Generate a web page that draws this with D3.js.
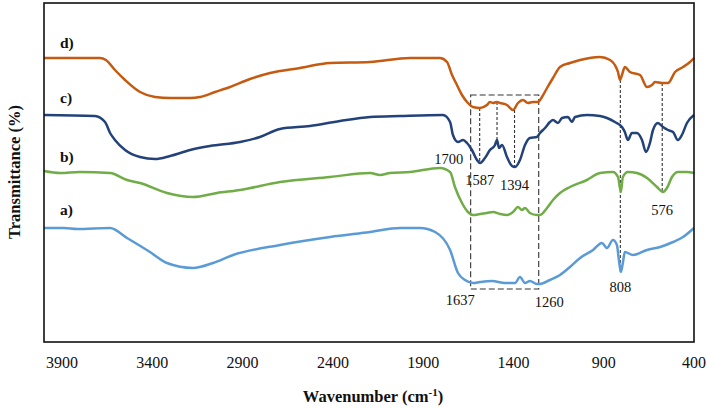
<!DOCTYPE html>
<html>
<head>
<meta charset="utf-8">
<script src="https://cdn.jsdelivr.net/npm/d3@7"></script>
<style>
body { margin: 0; background: #fff; }
text { font-family: "Liberation Serif", "Times New Roman", serif; fill: #111; }
.tick-label { font-size: 16px; }
.peak-label { font-size: 14.5px; }
.curve-label { font-size: 15.5px; font-weight: bold; }
.axis-title { font-size: 16.5px; font-weight: bold; }
.spectrum { fill: none; stroke-width: 2.5; stroke-linejoin: round; }
</style>
</head>
<body>
<svg width="708" height="408"></svg>
<script>
// wavenumber ticks (cm-1)
var xTicks = [3900, 3400, 2900, 2400, 1900, 1400, 900, 400];

// spectra: [wavenumber, transmittance (a.u., offset)]
var specA = [[4000,57],[3889,57],[3817,56.5],[3634,57],[3540,52],[3413,45],[3319,39.5],[3175,37],[3064,39.5],
	[2953,43.5],[2693,48.5],[2416,52.5],[2194,55],[2028,57],[1918,57],[1834,55],[1751,46],[1707,34.5],[1668,31],
	[1624,29.5],[1585,30],[1519,30.5],[1447,29.5],[1391,29.5],[1364,32.5],[1336,29.5],[1309,30.5],[1270,29],
	[1253,29],[1198,31],[1142,33.5],[1087,37.5],[1031,42],[959,46],[910,49.5],[882,47],[849,51],[827,48.5],
	[816,41],[805,35],[794,39.5],[783,45],[738,43.5],[660,46],[588,47.5],[516,50],[461,52.5],[400,57]];

var specB = [[4000,85.5],[3911,84.5],[3801,85],[3634,84.5],[3540,81],[3468,79.5],[3319,74.5],[3175,72.5],
	[3042,74.5],[2914,76],[2693,80],[2416,82.5],[2194,84.5],[2139,83.5],[2084,84.5],[1973,85],[1807,87],
	[1751,85],[1724,77.5],[1685,69.5],[1652,65],[1624,63.5],[1585,64],[1547,64.5],[1513,65],[1474,64],
	[1436,63.5],[1402,65],[1375,67.5],[1353,66],[1336,67],[1309,64.5],[1270,63.5],[1253,63.5],[1214,67],
	[1181,71],[1142,74.5],[1087,77.5],[993,81],[921,84.5],[849,85],[821,82.5],[805,75],[794,82.5],[766,85],
	[716,84.5],[660,82],[605,77.5],[572,75],[550,77],[522,82.5],[489,85],[439,85],[400,84.5]];

var specC = [[4000,113.5],[3718,113],[3662,110],[3634,104.5],[3607,101],[3551,96],[3468,92.5],[3385,91.5],
	[3302,93],[3191,96],[3081,98],[2914,100],[2804,102.5],[2693,106.5],[2527,108],[2361,110.5],[2194,112.5],
	[2028,113],[1790,113.5],[1751,110],[1735,103.5],[1707,100],[1679,101],[1657,99.5],[1630,96],[1602,91],
	[1585,89.5],[1558,92],[1530,96],[1502,98.5],[1491,101],[1480,97],[1463,98.5],[1436,92.5],[1408,88],
	[1391,87.5],[1364,91],[1336,98.5],[1309,102],[1270,102.5],[1253,104.5],[1225,107],[1198,110],[1181,111],
	[1153,109.5],[1131,112],[1098,112.5],[1076,110],[1059,112.5],[993,113.5],[921,113],[882,112],[838,110],
	[799,107.5],[783,105],[766,101],[744,104.5],[716,104.5],[688,101],[666,95],[644,99.5],[627,106],[600,109.5],
	[572,107.5],[544,106],[516,105],[489,101],[467,103.5],[439,109.5],[400,113.5]];

var specD = [[4000,142],[3801,142],[3690,142],[3657,141],[3607,136],[3551,131],[3468,125],[3385,122.5],
	[3302,122],[3191,122],[3136,122.5],[3053,125],[2970,127.5],[2859,131.5],[2748,134.5],[2582,137],
	[2416,139.5],[2194,140],[1973,142],[1807,142],[1768,140],[1740,133.5],[1713,128.5],[1685,123.5],[1657,120],
	[1624,117.5],[1585,117],[1547,118.5],[1530,120],[1513,119.5],[1491,120],[1474,119.5],[1436,118.5],
	[1402,116],[1375,119.5],[1347,121],[1320,119.5],[1292,120],[1264,120],[1242,122.5],[1214,127],[1181,132],
	[1142,137.5],[1087,139.5],[1031,141],[921,142.5],[865,141],[838,138.5],[821,135],[810,131],[799,133.5],
	[783,137.5],[755,135],[699,133.5],[660,127.5],[633,128.5],[616,130],[577,129.5],[544,129.5],[505,135],
	[461,137.5],[422,140],[400,142]];

var seriesNames = ["a)", "b)", "c)", "d)"];
var seriesColors = ["#5b9bd5", "#70ad47", "#23427a", "#c55a11"];
var seriesData = [specA, specB, specC, specD];
var labelLevels = [63.5, 90, 119.5, 147];

// marked peaks: [wavenumber, label, label level, anchor]
var peakLabels = [[1700, "1700", 89, "end"], [1587, "1587", 78.5, "middle"], [1394, "1394", 76, "middle"],
	[1637, "1637", 18.5, "end"], [1260, "1260", 17.5, "start"], [808, "808", 25, "middle"], [576, "576", 63.5, "middle"]];

// dashed guide lines: [wavenumber, from, to]
var guides = [[1587, 117, 89.5], [1491, 120, 101], [1394, 116, 87.5], [808, 131, 35], [576, 129.5, 75]];
var boxRange = [1637, 1260, 26.5, 123.5];

var svg = d3.select("svg");
var margin = {left: 44, right: 14, top: 3, bottom: 66};
var width = 708, height = 408;

var x = d3.scaleLinear().domain([4000, 400]).range([margin.left, width - margin.right]);
var y = d3.scaleLinear().domain([0, 170]).range([height - margin.bottom, margin.top - 1]);

var line = d3.line()
	.x(function(d) { return x(d[0]); })
	.y(function(d) { return y(d[1]); })
	.curve(d3.curveMonotoneX);

// guides under the curves
var g = svg.append("g");
g.append("rect")
	.attr("x", x(boxRange[0]))
	.attr("y", y(boxRange[3]))
	.attr("width", x(boxRange[1]) - x(boxRange[0]))
	.attr("height", y(boxRange[2]) - y(boxRange[3]))
	.attr("fill", "none")
	.attr("stroke", "#333")
	.attr("stroke-width", 1.1)
	.attr("stroke-dasharray", "6,3");

g.selectAll("line.guide")
	.data(guides)
	.enter().append("line")
	.attr("class", "guide")
	.attr("x1", function(d) { return x(d[0]); })
	.attr("x2", function(d) { return x(d[0]); })
	.attr("y1", function(d) { return y(d[1]); })
	.attr("y2", function(d) { return y(d[2]); })
	.attr("stroke", "#333")
	.attr("stroke-width", 1.1)
	.attr("stroke-dasharray", "3,2");

svg.selectAll("path.spectrum")
	.data(seriesData)
	.enter().append("path")
	.attr("class", "spectrum")
	.attr("stroke", function(d, i) { return seriesColors[i]; })
	.attr("d", line);

// frame
svg.append("rect")
	.attr("x", margin.left)
	.attr("y", margin.top)
	.attr("width", width - margin.left - margin.right)
	.attr("height", height - margin.top - margin.bottom)
	.attr("fill", "none")
	.attr("stroke", "#111")
	.attr("stroke-width", 1.6);

// x tick labels (no tick marks)
svg.selectAll("text.tick-label")
	.data(xTicks)
	.enter().append("text")
	.attr("class", "tick-label")
	.attr("x", function(d) { return x(d); })
	.attr("y", 368)
	.attr("text-anchor", "middle")
	.text(function(d) { return d; });

svg.selectAll("text.curve-label")
	.data(seriesNames)
	.enter().append("text")
	.attr("class", "curve-label")
	.attr("x", 60)
	.attr("y", function(d, i) { return y(labelLevels[i]); })
	.text(function(d) { return d; });

svg.selectAll("text.peak-label")
	.data(peakLabels)
	.enter().append("text")
	.attr("class", "peak-label")
	.attr("x", function(d) { return x(d[0]) + (d[3] == "end" ? 4 : d[3] == "start" ? -4 : 0); })
	.attr("y", function(d) { return y(d[2]); })
	.attr("text-anchor", function(d) { return d[3]; })
	.text(function(d) { return d[1]; });

var xt = svg.append("text")
	.attr("class", "axis-title")
	.attr("x", 373)
	.attr("y", 402)
	.attr("text-anchor", "middle");
xt.append("tspan").text("Wavenumber (cm");
xt.append("tspan").attr("dy", -6).attr("font-size", "11px").text("-1");
xt.append("tspan").attr("dy", 6).text(")");

svg.append("text")
	.attr("class", "axis-title")
	.attr("transform", "translate(20,172) rotate(-90)")
	.attr("text-anchor", "middle")
	.text("Transmittance (%)");
</script>
</body>
</html>
